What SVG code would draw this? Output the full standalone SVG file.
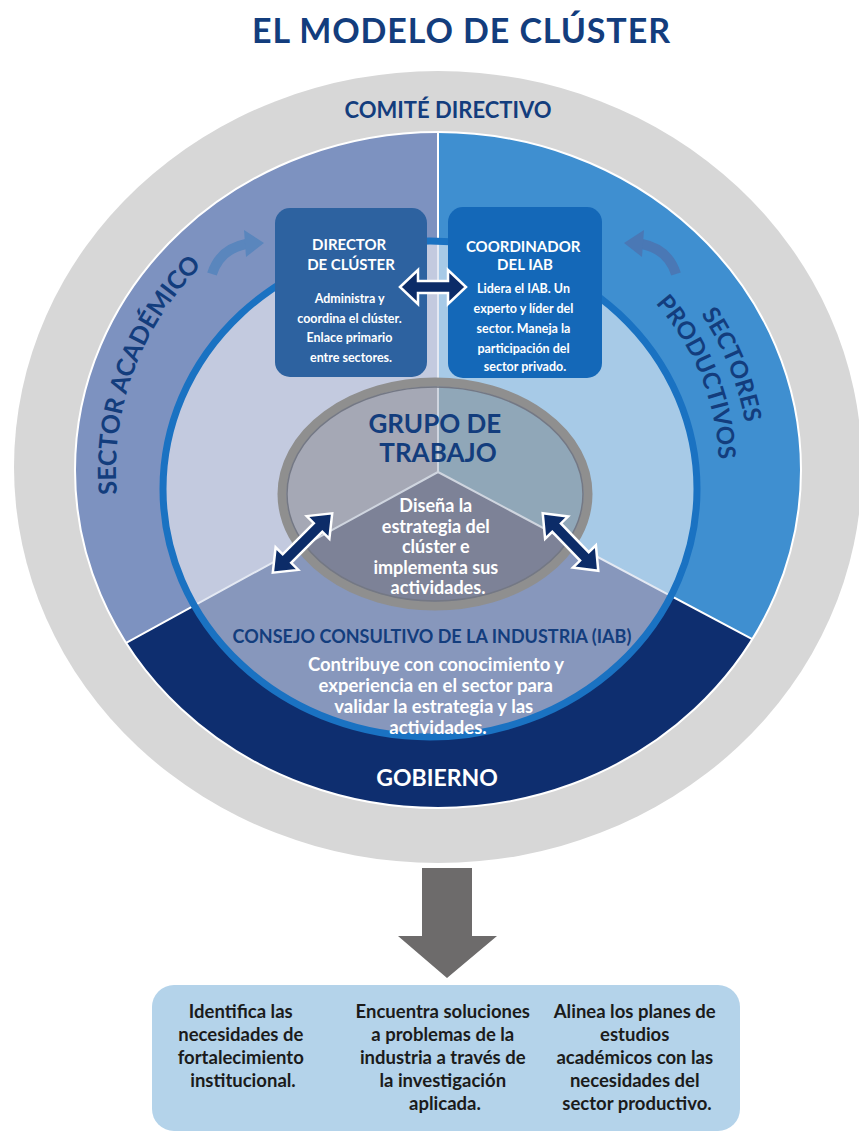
<svg xmlns="http://www.w3.org/2000/svg" xmlns:xlink="http://www.w3.org/1999/xlink" width="859" height="1133" viewBox="0 0 859 1133">
  <defs>
    <style>
      .t { font-family: Lato, "Open Sans", "Liberation Sans", sans-serif; font-weight: 700; }
      .mid { text-anchor: middle; }
      .navy { fill: #133d7d; }
      .white { fill: #ffffff; }
      .dark { fill: #1b1b1b; }
      .dbl { fill: #0c2c68; stroke: #ffffff; stroke-width: 2.5; stroke-linejoin: miter; }
      .swirl { fill: none; stroke-width: 10; stroke-linecap: butt; }
    </style>
    <clipPath id="clipSector"><ellipse cx="438" cy="470" rx="363" ry="338"/></clipPath>
    <clipPath id="clipInner"><ellipse cx="430" cy="489" rx="267" ry="248"/></clipPath>
    <clipPath id="clipCore"><ellipse cx="435" cy="494" rx="153" ry="112"/></clipPath>
    <path id="arcAcad" d="M 121.9 527.4 A 322 301 0 0 1 226.7 242.8"/>
    <path id="arcSect" d="M 614.5 230.1 A 311 291 0 0 1 739.1 542.9"/>
    <path id="arcProd" d="M 597 253.3 A 281 262 0 0 1 709.7 535.6"/>
  </defs>

  <rect width="859" height="1133" fill="#ffffff"/>

  <!-- title -->
  <text class="t mid navy" x="461" y="43" font-size="34" textLength="418" lengthAdjust="spacing">EL MODELO DE CLÚSTER</text>

  <!-- steering committee: outer grey ring -->
  <g id="comite-directivo">
    <ellipse cx="438" cy="467" rx="424" ry="396" fill="#d7d7d7"/>
    <text class="t mid navy" x="448" y="118" font-size="22">COMITÉ DIRECTIVO</text>
  </g>

  <!-- three sector bands -->
  <g id="sectores" clip-path="url(#clipSector)">
    <path d="M438,472 L438,0 L0,0 L0,712 Z" fill="#7d92c0"/>
    <path d="M438,472 L438,0 L859,0 L859,696 Z" fill="#3f8fd0"/>
    <path d="M438,472 L0,712 L0,1133 L859,1133 L859,696 Z" fill="#0e2e6f"/>
    <path d="M438,132 L438,472 M438,472 L0,712 M438,472 L859,696" stroke="#ffffff" stroke-width="2" fill="none"/>
  </g>
  <ellipse cx="438" cy="470" rx="363" ry="338" fill="none" stroke="#ffffff" stroke-width="2"/>

  <g id="sector-academico">
    <path class="swirl" d="M 212 274 Q 220 249 246 244" stroke="#5a86bd"/>
    <polygon points="244,230 264,243 246,257" fill="#5a86bd"/>
    <text class="t navy" font-size="25"><textPath xlink:href="#arcAcad" startOffset="50%" text-anchor="middle">SECTOR ACADÉMICO</textPath></text>
  </g>

  <g id="sectores-productivos">
    <path class="swirl" d="M 676 274 Q 668 249 642 244" stroke="#4a78b5"/>
    <polygon points="644,230 624,243 642,257" fill="#4a78b5"/>
    <!-- two-line label, each line on its own arc -->
    <text class="t navy" font-size="24"><textPath xlink:href="#arcSect" startOffset="50%" text-anchor="middle">SECTORES</textPath><textPath xlink:href="#arcProd" startOffset="50%" text-anchor="middle">PRODUCTIVOS</textPath></text>
  </g>

  <g id="gobierno">
    <text class="t mid white" x="437" y="786" font-size="23">GOBIERNO</text>
  </g>

  <!-- industry advisory board: inner disc -->
  <g id="consejo-consultivo">
    <g clip-path="url(#clipInner)">
      <path d="M438,472 L438,0 L0,0 L0,712 Z" fill="#c3cadf"/>
      <path d="M438,472 L438,0 L859,0 L859,696 Z" fill="#a7cae7"/>
      <path d="M438,472 L0,712 L0,1133 L859,1133 L859,696 Z" fill="#8797bc"/>
      <path d="M438,132 L438,472 M438,472 L0,712 M438,472 L859,696" stroke="#e4e9f3" stroke-width="2" fill="none"/>
    </g>
    <ellipse cx="430" cy="489" rx="267" ry="248" fill="none" stroke="#1a72c2" stroke-width="7"/>
    <text class="t mid navy" x="432" y="643" font-size="18">CONSEJO CONSULTIVO DE LA INDUSTRIA (IAB)</text>
    <text class="t mid white" font-size="18.5">
      <tspan x="438" y="671">Contribuye con conocimiento y</tspan>
      <tspan x="438" y="692">experiencia en el sector para</tspan>
      <tspan x="436" y="713">validar la estrategia y las</tspan>
      <tspan x="438" y="734">actividades.</tspan>
    </text>
  </g>

  <!-- working group: central disc -->
  <g id="grupo-de-trabajo">
    <g clip-path="url(#clipCore)">
      <path d="M438,472 L438,0 L0,0 L0,712 Z" fill="#a5a8b5"/>
      <path d="M438,472 L438,0 L859,0 L859,696 Z" fill="#90a7b8"/>
      <path d="M438,472 L0,712 L0,1133 L859,1133 L859,696 Z" fill="#7d8297"/>
      <path d="M438,300 L438,472 M438,472 L0,712 M438,472 L859,696" stroke="#cfd5df" stroke-width="2" fill="none"/>
    </g>
    <ellipse cx="435" cy="494" rx="153" ry="112" fill="none" stroke="#8f8f8f" stroke-width="9"/>
    <ellipse cx="435" cy="494" rx="148" ry="107" fill="none" stroke="#747884" stroke-width="1.5"/>
    <text class="t mid navy" font-size="26">
      <tspan x="438" y="433">GRUPO DE</tspan>
      <tspan x="438" y="462">TRABAJO</tspan>
    </text>
    <text class="t mid white" font-size="18">
      <tspan x="438" y="512">Diseña la</tspan>
      <tspan x="438" y="532.5">estrategia del</tspan>
      <tspan x="438" y="553">clúster e</tspan>
      <tspan x="438" y="573.5">implementa sus</tspan>
      <tspan x="438" y="594">actividades.</tspan>
    </text>
  </g>

  <g id="director-cluster">
    <rect x="275" y="208" width="152" height="169" rx="15" fill="#2d62a0"/>
    <text class="t mid white" font-size="15">
      <tspan x="351" y="250">DIRECTOR</tspan>
      <tspan x="351" y="270">DE CLÚSTER</tspan>
    </text>
    <text class="t mid white" font-size="12.5">
      <tspan x="351" y="303">Administra y</tspan>
      <tspan x="351" y="323">coordina el clúster.</tspan>
      <tspan x="351" y="342">Enlace primario</tspan>
      <tspan x="351" y="362">entre sectores.</tspan>
    </text>
  </g>

  <g id="coordinador-iab">
    <rect x="448" y="207" width="154" height="171" rx="15" fill="#1468b8"/>
    <text class="t mid white" font-size="15">
      <tspan x="525" y="252">COORDINADOR</tspan>
      <tspan x="525" y="270">DEL IAB</tspan>
    </text>
    <text class="t mid white" font-size="12.5">
      <tspan x="525" y="293">Lidera el IAB. Un</tspan>
      <tspan x="525" y="313">experto y líder del</tspan>
      <tspan x="525" y="333">sector. Maneja la</tspan>
      <tspan x="525" y="353">participación del</tspan>
      <tspan x="525" y="371">sector privado.</tspan>
    </text>
  </g>

  <!-- connectors -->
  <g id="connectors">
    <polygon class="dbl" points="400,287 418,270 418,281 448,281 448,270 466,287 448,304 448,293 418,293 418,304"/>
    <polygon class="dbl" transform="translate(302.5,543) rotate(-45)" points="-42,0 -22,-16 -22,-6 22,-6 22,-16 42,0 22,16 22,6 -22,6 -22,16"/>
    <polygon class="dbl" transform="translate(570.5,542) rotate(46)" points="-40,0 -20,-16 -20,-6 20,-6 20,-16 40,0 20,16 20,6 -20,6 -20,16"/>
    <polygon points="422,868 472,868 472,936 497,936 447,978 398,936 422,936" fill="#6d6b6b"/>
  </g>

  <!-- outcomes -->
  <g id="resultados">
    <rect x="152" y="985" width="588" height="146" rx="22" fill="#b4d3ea"/>
    <text class="t mid dark" font-size="18.5">
      <tspan x="243" y="1018">Identifica las</tspan>
      <tspan x="243" y="1041">necesidades de</tspan>
      <tspan x="243" y="1064">fortalecimiento</tspan>
      <tspan x="243" y="1087">institucional.</tspan>
    </text>
    <text class="t mid dark" font-size="18.5">
      <tspan x="445" y="1018">Encuentra soluciones</tspan>
      <tspan x="445" y="1041">a problemas de la</tspan>
      <tspan x="445" y="1064">industria a través de</tspan>
      <tspan x="445" y="1087">la investigación</tspan>
      <tspan x="445" y="1110">aplicada.</tspan>
    </text>
    <text class="t mid dark" font-size="18.5">
      <tspan x="637" y="1018">Alinea los planes de</tspan>
      <tspan x="637" y="1041">estudios</tspan>
      <tspan x="637" y="1064">académicos con las</tspan>
      <tspan x="637" y="1087">necesidades del</tspan>
      <tspan x="637" y="1110">sector productivo.</tspan>
    </text>
  </g>
</svg>
